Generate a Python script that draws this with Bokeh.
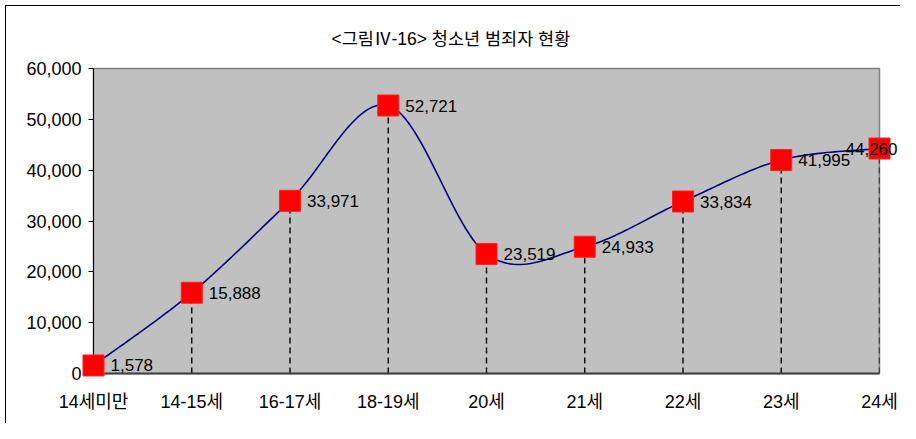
import numpy as np
from bokeh.plotting import figure
from bokeh.models import (ColumnDataSource, FixedTicker, NumeralTickFormatter, Range1d, Title)
from bokeh.core.properties import value
from bokeh.embed import file_html
from bokeh.resources import INLINE

# ---- data ----
categories = ["14세미만", "14-15세", "16-17세", "18-19세", "20세", "21세", "22세", "23세", "24세"]
offenders = [1578, 15888, 33971, 52721, 23519, 24933, 33834, 41995, 44260]
y_ticks = [0, 10000, 20000, 30000, 40000, 50000, 60000]
title_text = "<그림Ⅳ-16> 청소년 범죄자 현황"

FONT = "Liberation Sans, Arial, Noto Sans CJK KR"

xs = list(range(len(categories)))

p = figure(width=894, height=417, output_backend="svg", toolbar_location=None,
           x_range=Range1d(0, len(categories) - 1), y_range=Range1d(0, 60000),
           frame_width=786, frame_height=305,
           min_border_left=87, min_border_right=21, min_border_top=62, min_border_bottom=50)
p.margin = (5, 0, 0, 5)
p.styles = {"border-left": "1px solid black", "border-top": "1px solid black"}

p.background_fill_color = "#C0C0C0"
p.border_fill_color = "white"
p.outline_line_color = "#808080"
p.outline_line_width = 1.5
p.xgrid.visible = False
p.ygrid.visible = False

t = Title(text=title_text, align="left", offset=238, text_font=FONT,
          text_font_size="17.5px", text_font_style="normal", text_color="black", standoff=40)
p.add_layout(t, "above")

# axes
p.yaxis.ticker = FixedTicker(ticks=y_ticks)
p.yaxis.formatter = NumeralTickFormatter(format="0,0")
p.yaxis.major_label_text_font = FONT
p.yaxis.major_label_text_font_size = "18px"
p.yaxis.major_label_text_color = "black"
p.yaxis.major_tick_out = 5
p.yaxis.major_tick_in = 0
p.yaxis.minor_tick_line_color = None
p.yaxis.axis_line_color = "black"
p.yaxis.major_tick_line_color = "black"
p.yaxis.major_label_standoff = 7

p.xaxis.ticker = FixedTicker(ticks=xs)
p.xaxis.major_label_overrides = {i: c for i, c in enumerate(categories)}
p.xaxis.major_label_text_font = FONT
p.xaxis.major_label_text_font_size = "18px"
p.xaxis.major_label_text_color = "black"
p.xaxis.major_tick_out = 0
p.xaxis.major_tick_in = 0
p.xaxis.minor_tick_line_color = None
p.xaxis.axis_line_color = "#404040"
p.xaxis.axis_line_width = 2
p.xaxis.major_label_standoff = 18

# drop lines
p.segment(x0=xs, y0=[0] * len(xs), x1=xs, y1=offenders, line_color="black",
          line_width=1.4, line_dash="6 4")

# smoothed line (Bezier through the points, Excel-style smoothing)
P = np.array([xs, offenders], dtype=float).T
sx, sy = [], []
n = len(P)
for i in range(n - 1):
    p0 = P[i - 1] if i > 0 else P[i]
    p1 = P[i]
    p2 = P[i + 1]
    p3 = P[i + 2] if i + 2 < n else P[i + 1]
    c1 = p1 + (p2 - p0) / 6.0
    c2 = p2 - (p3 - p1) / 6.0
    tt = np.linspace(0, 1, 30)[:, None]
    seg = ((1 - tt) ** 3) * p1 + 3 * ((1 - tt) ** 2) * tt * c1 + 3 * (1 - tt) * tt ** 2 * c2 + tt ** 3 * p2
    sx.extend(seg[:, 0].tolist())
    sy.extend(seg[:, 1].tolist())
p.line(sx, sy, line_color="#000080", line_width=1.6)

# markers
m = p.scatter(xs, offenders, marker="square", size=21, fill_color="#FF0000",
              line_color="#FF2020", line_width=1)
m.level = "overlay"

# data labels
labels = [f"{v:,}" for v in offenders]
aligns = ["left"] * len(xs)
offs = [17] * len(xs)
aligns[-1] = "right"
offs[-1] = 18
src = ColumnDataSource(dict(x=xs, y=offenders, text=labels, xo=offs, al=aligns))
lab = p.text(x="x", y="y", text="text", x_offset="xo", text_align="al", source=src,
             text_font=value(FONT), text_font_size="17px", text_color="black",
             text_baseline="middle")
lab.level = "overlay"

open("out.html", "w").write(file_html(p, INLINE))
